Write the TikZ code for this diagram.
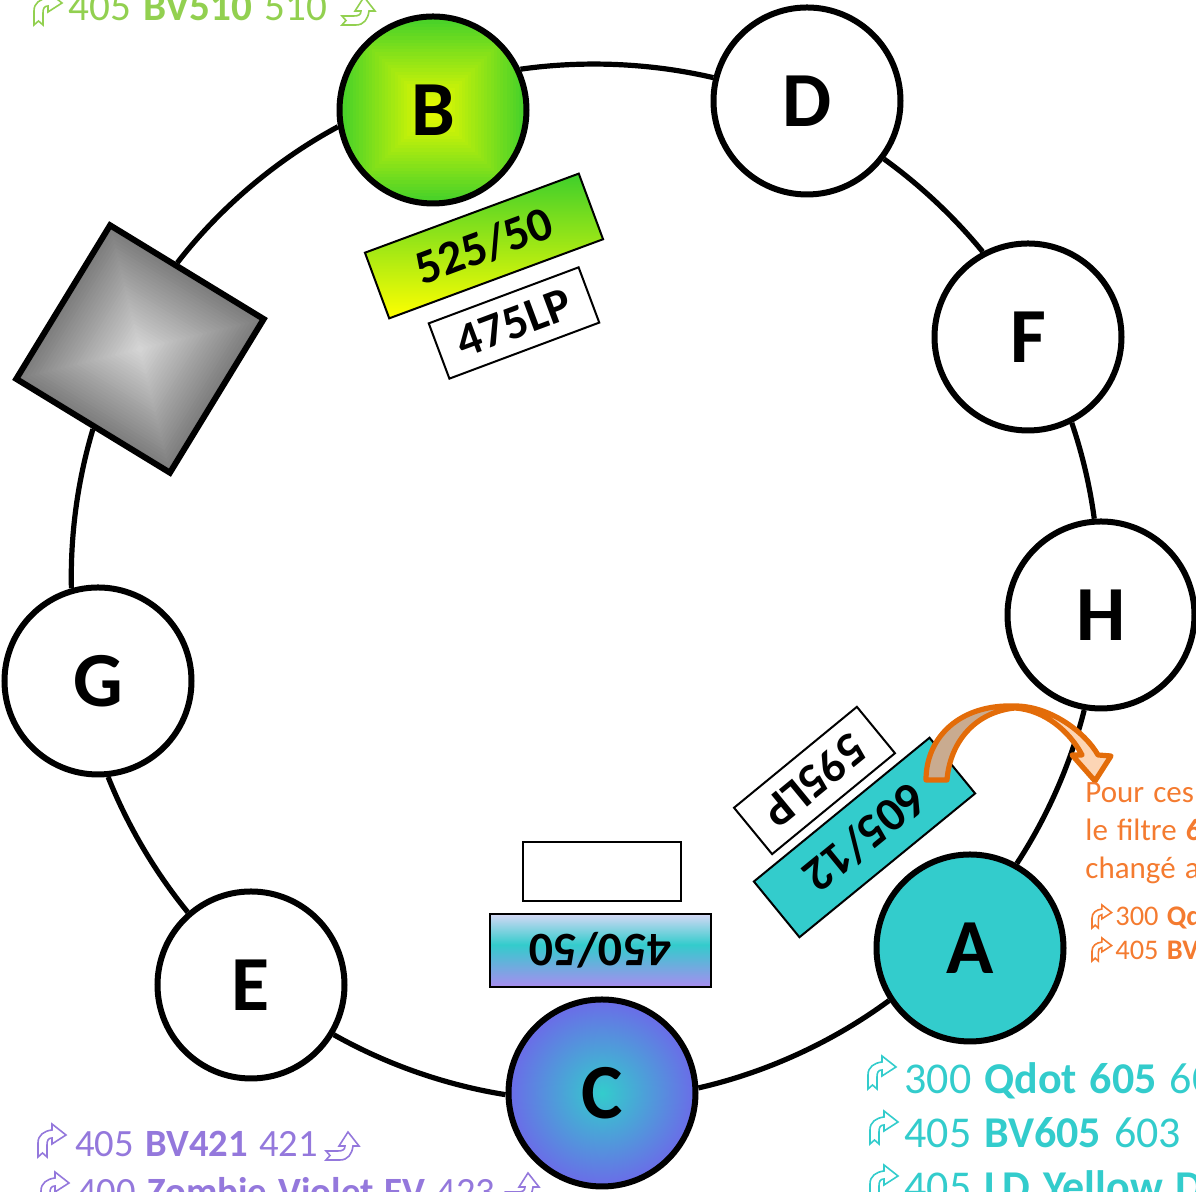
\documentclass[tikz,border=0pt]{standalone}
\usepackage{fontspec}
\setmainfont[WordSpace = 1.3]{Carlito}
\definecolor{aqua}{HTML}{33CCCC}
\definecolor{violet}{HTML}{9478DC}
\definecolor{indigo}{HTML}{6B6BE8}
\definecolor{lime}{HTML}{3FCF2B}
\definecolor{lemon}{HTML}{EAFB00}
\definecolor{leaf}{HTML}{92D050}
\definecolor{rust}{HTML}{F47B30}
\definecolor{rim}{HTML}{E36C09}
\definecolor{tan}{HTML}{C9AB90}
\definecolor{peach}{HTML}{FCD5B5}
\definecolor{prismdark}{HTML}{7A7A7A}
\definecolor{prismlight}{HTML}{D4D4D4}
\definecolor{bandtop}{HTML}{D5D8F5}
\definecolor{bandlow}{HTML}{A88CF0}
\pgfdeclareverticalshading{band}{100bp}{color(0bp)=(bandlow); color(25bp)=(bandlow); color(54bp)=(aqua); color(75bp)=(bandtop); color(100bp)=(bandtop)}
% concentric squares: half size, outer colour, inner colour
\newcommand{\squareglow}[3]{
  \foreach \i in {30,29,...,1} {
    \pgfmathsetmacro{\p}{100*(\i-1)/29}
    \pgfmathsetmacro{\h}{#1*\i/30}
    \fill [#2!\p!#3] (-\h,-\h) rectangle (\h,\h);
  }
}
\tikzset{
  laser/.style = {circle,draw,line width = 3pt,minimum size = 93.5pt,inner sep = 0pt,font = \bfseries\fontsize{39}{39}\selectfont},
  filt/.style = {draw,line width = 1pt,inner sep = 0pt,font = \bfseries\fontsize{24}{24}\selectfont},
  ring/.style = {line width = 2.6pt,looseness = 0.85},
  pics/mark/.style = {code = {
      \draw [line width = 0.8pt,#1] (0,0)--(0,14) .. controls (0,22) and (6,26) .. (14,27)--(14,33)--(28,22)--(14,13)--(14,19) .. controls (10,19) and (9,16) .. (9,12)--(9,0)--(4.5,4)--cycle;
    }}
}
\begin{document}
\begin{tikzpicture} [x = 0.5pt,y = 0.5pt]
  \useasboundingbox (0,0) rectangle (1196,1192);
  \clip (0,0) rectangle (1196,1192);
  % glow under B and the prism
  \begin{scope}
    \clip (433,1082) circle (94);
    \begin{scope} [shift = {(433,1082)}]
      \squareglow{96}{lime}{lemon}
    \end{scope}
  \end{scope}
  \begin{scope} [shift = {(140,843)},rotate = -31.4]
    \squareglow{92}{prismdark}{prismlight}
  \end{scope}
  % stations
  \node [laser] (B) at (433,1082) {B};
  \node [laser,fill = white] (D) at (807,1091) {D};
  \node [laser,fill = white] (F) at (1028,855) {F};
  \node [laser,fill = white] (H) at (1101,577) {H};
  \node [laser,fill = aqua] (A) at (970,244) {A};
  \node [laser,inner color = aqua,outer color = indigo] (C) at (602,99) {C};
  \node [laser,fill = white] (E) at (251,207) {E};
  \node [laser,fill = white] (G) at (98,511) {G};
  \node [draw,line width = 3pt,minimum size = 90pt,inner sep = 0pt,rotate = -31.4] (prism) at (140,843) {};
  % ring
  \draw [ring] (B.25) to [bend left = 10.6] (D.166);
  \draw [ring] (D.-37) to [bend left = 7.4] (F.118);
  \draw [ring] (F.-63) to [bend left = 5.6] (H.94);
  \draw [ring] (H.-100) to [bend left = 9.5] (A.61);
  \draw [ring] (A.-147) to [bend left = 11.8] (C.3);
  \draw [ring] (C.181) to [bend left = 10.2] (E.-31);
  \draw [ring] (E.131) to [bend left = 8.7] (G.-84);
  \draw [ring] (G.106) to [bend left = 9] (prism.-89);
  \draw [ring] (prism.98) to [bend left = 12] (B.190);
  % filters
  \node [filt,minimum width = 114pt,minimum height = 35pt,rotate = 20.3,top color = lime,bottom color = yellow] (f525) at (484,946) {525/50};
  \node [filt,fill = white,minimum width = 80pt,minimum height = 29.5pt,rotate = 20.5] (f475) at (514,869) {475LP};
  \node [filt,fill = aqua,minimum width = 113.5pt,minimum height = 36pt,rotate = 219.3] (f605) at (864.5,354.5) {605/12};
  \node [filt,fill = white,minimum width = 79.5pt,minimum height = 30pt,rotate = 219.4] (f595) at (814.5,411.5) {595LP};
  \node [filt,fill = white,minimum width = 79pt,minimum height = 29.5pt] (fblank) at (602,320.5) {};
  \node [filt,minimum width = 110.5pt,minimum height = 36.5pt,rotate = 180,shading = band] (f450) at (600.5,241.5) {450/50};
  % arrow
  \fill [tan] (926,412) .. controls (926,455) and (960,488) .. (1015,486) .. controls (975,480) and (950,450) .. (947,412)--cycle;
  \fill [peach] (1015,486) .. controls (1050,486) and (1085,460) .. (1098,437)--(1111,436)--(1095,411)--(1072,437)--(1082,437) .. controls (1070,460) and (1045,482) .. (1015,484)--cycle;
  \draw [rim,line width = 2.6pt,line join = round] (926,412) .. controls (926,455) and (960,488) .. (1015,486) .. controls (1050,486) and (1085,460) .. (1098,437)--(1111,436)--(1095,411)--(1072,437)--(1082,437) .. controls (1070,460) and (1045,482) .. (1015,484) .. controls (975,480) and (950,450) .. (947,412)--cycle;
  % labels
  \tikzset{every node/.style = {anchor = base west,inner sep = 0pt}}
  \node [text = leaf,font = \fontsize{20.6}{20.6}\selectfont] (tgreen) at (68,1171) {405 \textbf{BV510} 510};
  \pic at (34,1167) {mark = {leaf}};
  \pic [cm = {0,1,1,0,(0,0)}] at (342,1167) {mark = {leaf}};
  \node [text = violet,font = \fontsize{19.3}{19.3}\selectfont] (tviolet) at (75,35) {405 \textbf{BV421} 421};
  \node [text = violet,font = \fontsize{19.3}{19.3}\selectfont] (tzombie) at (77,-13) {400 \textbf{Zombie Violet FV} 423};
  \pic at (38,35) {mark = {violet}};
  \pic [cm = {0,1,1,0,(0,0)}] at (326,32) {mark = {violet}};
  \pic at (41,-13) {mark = {violet}};
  \pic [cm = {0,1,1,0,(0,0)}] at (506,-9) {mark = {violet}};
  \node [text = aqua,font = \fontsize{22}{22}\selectfont] (tqdot) at (904,98) {300 \textbf{Qdot 605} 60};
  \node [text = aqua,font = \fontsize{22}{22}\selectfont] (tbv) at (904,44) {405 \textbf{BV605} 603};
  \node [text = aqua,font = \fontsize{22}{22}\selectfont] (tld) at (904,-10) {405 \textbf{LD Yellow D}};
  \pic at (868,103) {mark = {aqua}};
  \pic at (870,48) {mark = {aqua}};
  \pic at (870,-6) {mark = {aqua}};
  \node [text = rust,font = \fontsize{15.5}{15.5}\selectfont] (tpour) at (1085,389) {Pour ces};
  \node [text = rust,font = \fontsize{15.5}{15.5}\selectfont] (tfiltre) at (1085,351) {le f{}iltre \textbf{6}};
  \node [text = rust,font = \fontsize{15.5}{15.5}\selectfont] (tchange) at (1085,313) {changé a};
  \node [text = rust,font = \fontsize{14.2}{14.2}\selectfont] (tq) at (1115,266) {300 \textbf{Qdot}};
  \node [text = rust,font = \fontsize{14.2}{14.2}\selectfont] (tb) at (1115,232) {405 \textbf{BV}};
  \pic [scale = 0.7] at (1092,264) {mark = {rust}};
  \pic [scale = 0.7] at (1092,231) {mark = {rust}};
\end{tikzpicture}
\end{document}
